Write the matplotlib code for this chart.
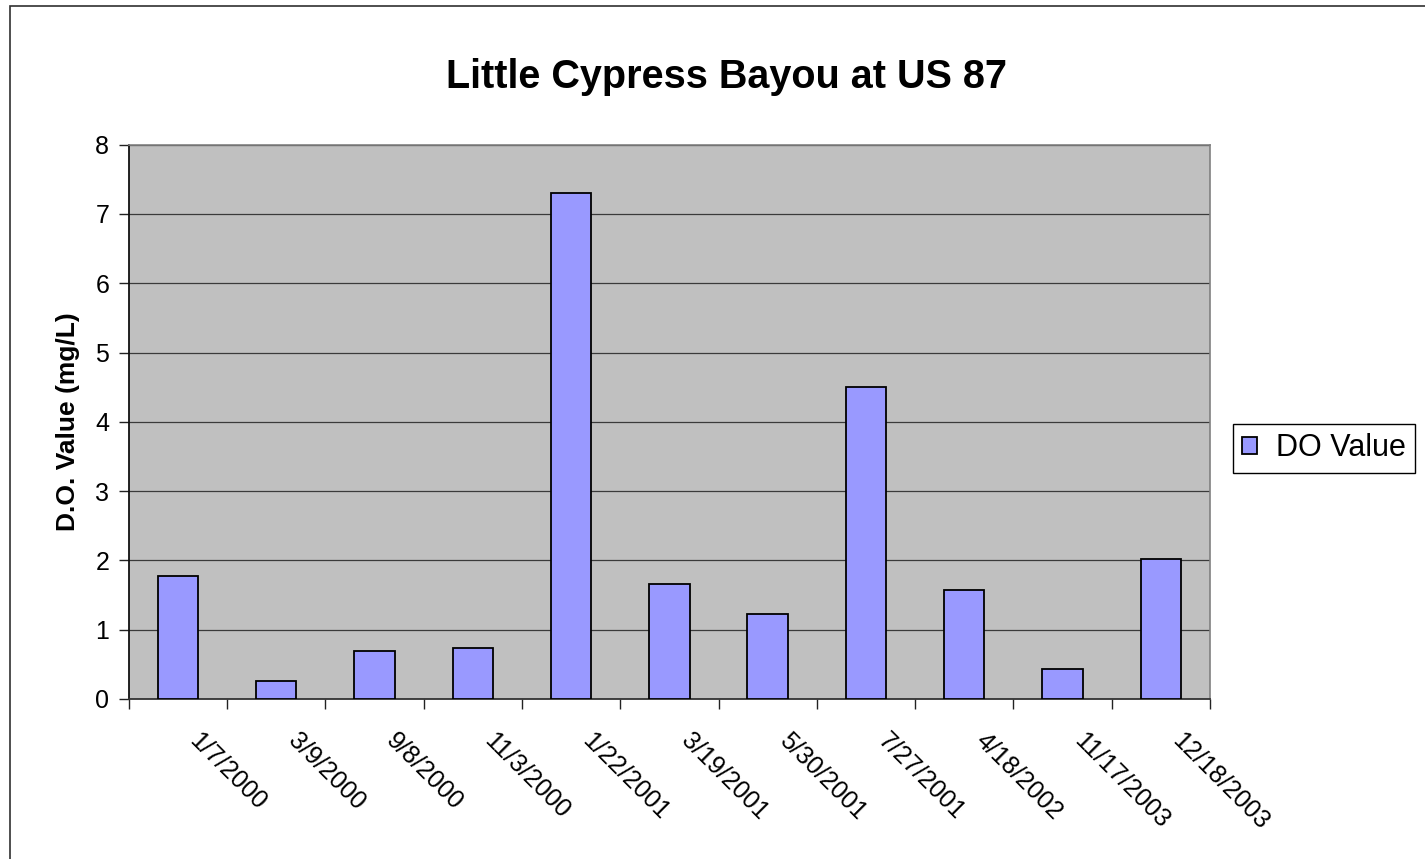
import matplotlib
matplotlib.use("Agg")
import matplotlib.pyplot as plt
from matplotlib.patches import Rectangle
from matplotlib.transforms import ScaledTranslation
import numpy as np

plt.rcParams['font.family'] = ['Liberation Sans', 'DejaVu Sans']

title = "Little Cypress Bayou at US 87"
ylabel = "D.O. Value (mg/L)"
series_name = "DO Value"
dates = ["1/7/2000", "3/9/2000", "9/8/2000", "11/3/2000", "1/22/2001", "3/19/2001",
         "5/30/2001", "7/27/2001", "4/18/2002", "11/17/2003", "12/18/2003"]
do_values = [1.78, 0.26, 0.69, 0.74, 7.30, 1.66, 1.23, 4.50, 1.57, 0.43, 2.02]
y_ticks = [0, 1, 2, 3, 4, 5, 6, 7, 8]

W, H = 1425, 859
fig = plt.figure(figsize=(W / 100, H / 100), dpi=100)
fig.patch.set_facecolor('white')

# outer chart border (extends past right/bottom edges)
fig.patches.append(Rectangle((10 / W, -0.1), 1.2, (1 - 6 / H) + 0.1,
                             transform=fig.transFigure, fill=False,
                             edgecolor='#303030', linewidth=1.2, zorder=0))

left, right, top, bottom = 128.7, 1210, 144.7, 699
ax = fig.add_axes([left / W, 1 - bottom / H, (right - left) / W, (bottom - top) / H])
ax.set_facecolor('#C0C0C0')

x = np.arange(len(dates))
bars = ax.bar(x, do_values, width=0.41, color='#9999FF', edgecolor='black',
              linewidth=1.3, zorder=3, label=series_name)

ax.set_xlim(-0.5, len(dates) - 0.5)
ax.set_ylim(0, 8)
ax.set_yticks(y_ticks)
ax.set_yticklabels([str(v) for v in y_ticks], fontsize=18)
ax.yaxis.grid(True, color='#3a3a3a', linewidth=0.9, zorder=1)
ax.set_axisbelow(True)

ax.set_xticks(x)
ax.set_xticklabels(dates, fontsize=18, rotation=-45, ha='left', va='top',
                   rotation_mode='anchor')
ax.set_xticks(np.arange(len(dates) + 1) - 0.5, minor=True)
ax.tick_params(axis='x', which='major', length=0, pad=21)
ax.tick_params(axis='x', which='minor', length=7, width=1, color='#222222', direction='out')
ax.tick_params(axis='y', length=7, width=1, color='#222222', direction='out', pad=7)
off = ScaledTranslation(24 / 100, 0, fig.dpi_scale_trans)
for lab in ax.get_xticklabels():
    lab.set_transform(lab.get_transform() + off)

for s in ['top', 'right']:
    ax.spines[s].set_color('#808080')
    ax.spines[s].set_linewidth(1.2)
ax.spines['left'].set_color('#111111')
ax.spines['left'].set_linewidth(1.3)
ax.spines['bottom'].set_color('#333333')
ax.spines['bottom'].set_linewidth(1.3)

fig.text(726 / W, 1 - 88 / H, title, fontsize=28.5, fontweight='bold',
         ha='center', va='baseline')
fig.text(68 / W, 1 - (top + bottom) / 2 / H, ylabel, fontsize=19, fontweight='bold',
         rotation=90, ha='center', va='center')

leg = fig.legend(handles=[bars], labels=[series_name], loc='center left',
                 bbox_to_anchor=(1233 / W, 1 - 448.5 / H), fontsize=22,
                 frameon=True, fancybox=False, edgecolor='black', framealpha=1,
                 handlelength=0.5, handleheight=0.5, handletextpad=0.6,
                 borderpad=0.3, borderaxespad=0)
leg.get_frame().set_linewidth(1.0)

fig.savefig('out.png', dpi=100)
